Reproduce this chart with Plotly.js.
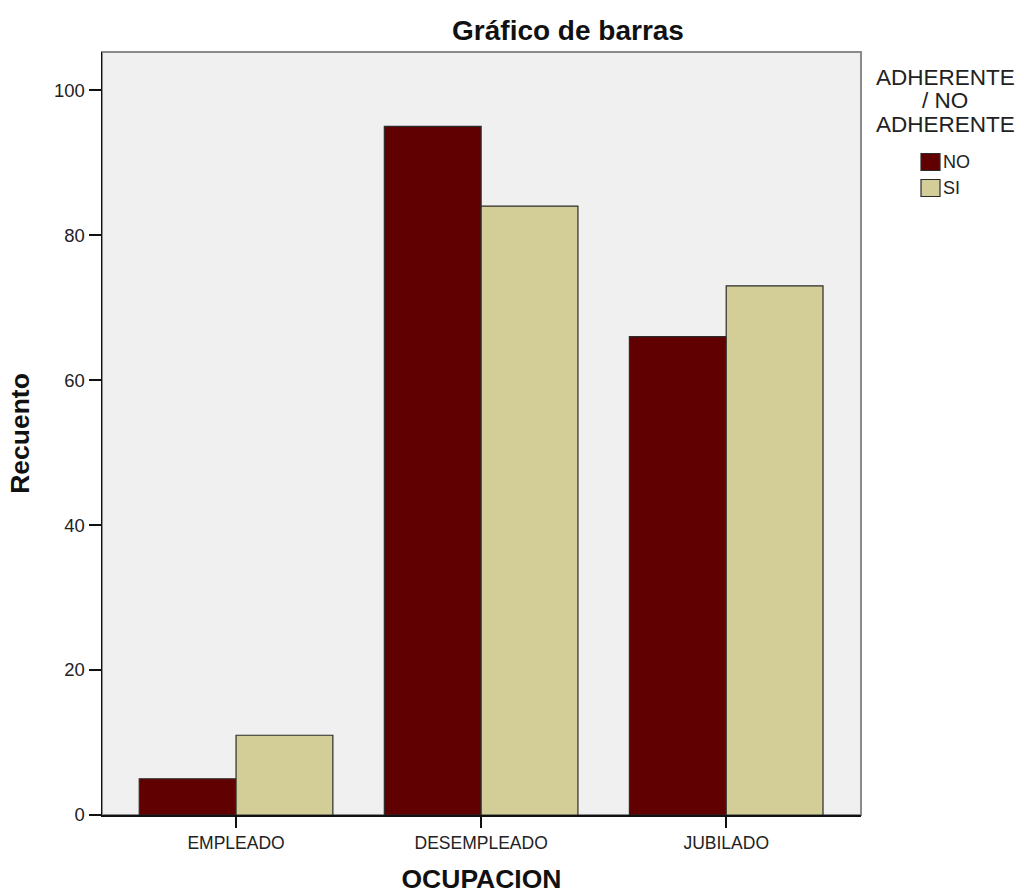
<!DOCTYPE html>
<html>
<head>
<meta charset="utf-8">
<script src="https://cdn.plot.ly/plotly-3.0.1.min.js"></script>
<style>html,body{margin:0;padding:0;background:#fff;}#chart{width:1024px;height:894px;}</style>
</head>
<body>
<div id="chart"></div>
<script>
const categories = ["EMPLEADO", "DESEMPLEADO", "JUBILADO"];
const seriesNames = ["NO", "SI"];
const valuesNO = [5, 95, 66];
const valuesSI = [11, 84, 73];
const seriesColors = ["#600000", "#d3ce97"];
const yTicks = [0, 20, 40, 60, 80, 100];
const chartTitle = "Gráfico de barras";
const xTitle = "OCUPACION";
const yTitle = "Recuento";
const legendTitleLines = ["ADHERENTE", "/ NO", "ADHERENTE"];

const FONT = "Arial, 'Liberation Sans', sans-serif";
const W = 1024, H = 894;
const mL = 102, mR = 163, mT = 52, mB = 79;

const traces = [valuesNO, valuesSI].map((vals, i) => ({
  type: "bar",
  name: seriesNames[i],
  x: categories,
  y: vals,
  marker: { color: seriesColors[i], line: { color: "#2b2b2b", width: 1.2 } },
  showlegend: false,
  hoverinfo: "x+y+name"
}));

const px = x => (x - mL) / (W - mL - mR);
const py = y => (H - mB - y) / (H - mT - mB);

const annotations = [];
const shapes = [];
shapes.push({ type: "rect", xref: "paper", yref: "paper", x0: 0, x1: 1, y0: 0, y1: 1,
  line: { color: "#8a8a8a", width: 2 }, layer: "below" });

legendTitleLines.forEach((t, i) => {
  annotations.push({ xref: "paper", yref: "paper", x: px(945), y: py(78 + i * 23),
    text: t, showarrow: false, xanchor: "center", yanchor: "middle",
    font: { family: FONT, size: 22.5, color: "#222" } });
});
seriesNames.forEach((n, i) => {
  const cy = 162 + i * 26;
  shapes.push({ type: "rect", xref: "paper", yref: "paper",
    x0: px(921), x1: px(940), y0: py(cy + 8.5), y1: py(cy - 8.5),
    fillcolor: seriesColors[i], line: { color: "#2b2b2b", width: 1.2 } });
  annotations.push({ xref: "paper", yref: "paper", x: px(941), y: py(cy),
    text: n, showarrow: false, xanchor: "left", yanchor: "middle",
    font: { family: FONT, size: 18, color: "#222" } });
});

const layout = {
  width: W, height: H,
  margin: { l: mL, r: mR, t: mT, b: mB, pad: 0 },
  paper_bgcolor: "#ffffff",
  plot_bgcolor: "#f0f0f0",
  barmode: "group",
  bargap: 0.21,
  bargroupgap: 0,
  title: { text: "<b>" + chartTitle + "</b>", x: 568 / W, xanchor: "center",
    y: 1 - 30 / H, yanchor: "middle", font: { family: FONT, size: 28, color: "#111" } },
  xaxis: {
    type: "category",
    range: [-0.547, 2.55],
    showgrid: false, zeroline: false,
    showline: true, linecolor: "#111", linewidth: 1.5, mirror: false,
    ticks: "outside", ticklen: 11, tickwidth: 1.5, tickcolor: "#111",
    tickfont: { family: FONT, size: 17.5, color: "#222" },
    title: { text: "<b>" + xTitle + "</b>", standoff: 29,
      font: { family: FONT, size: 26.5, color: "#111" } },
    automargin: false, fixedrange: true
  },
  yaxis: {
    range: [0, 105.25],
    tickvals: yTicks,
    ticktext: yTicks.map(String),
    showgrid: false, zeroline: false,
    showline: true, linecolor: "#111", linewidth: 1.5, mirror: false,
    ticks: "outside", ticklen: 12, tickwidth: 1.5, tickcolor: "#111",
    tickfont: { family: FONT, size: 18.5, color: "#222" },
    title: { text: "<b>" + yTitle + "</b>", standoff: 16,
      font: { family: FONT, size: 26.5, color: "#111" } },
    automargin: false, fixedrange: true
  },
  shapes: shapes,
  annotations: annotations,
  showlegend: false
};

Plotly.newPlot("chart", traces, layout, { displayModeBar: false, staticPlot: true });
</script>
</body>
</html>
